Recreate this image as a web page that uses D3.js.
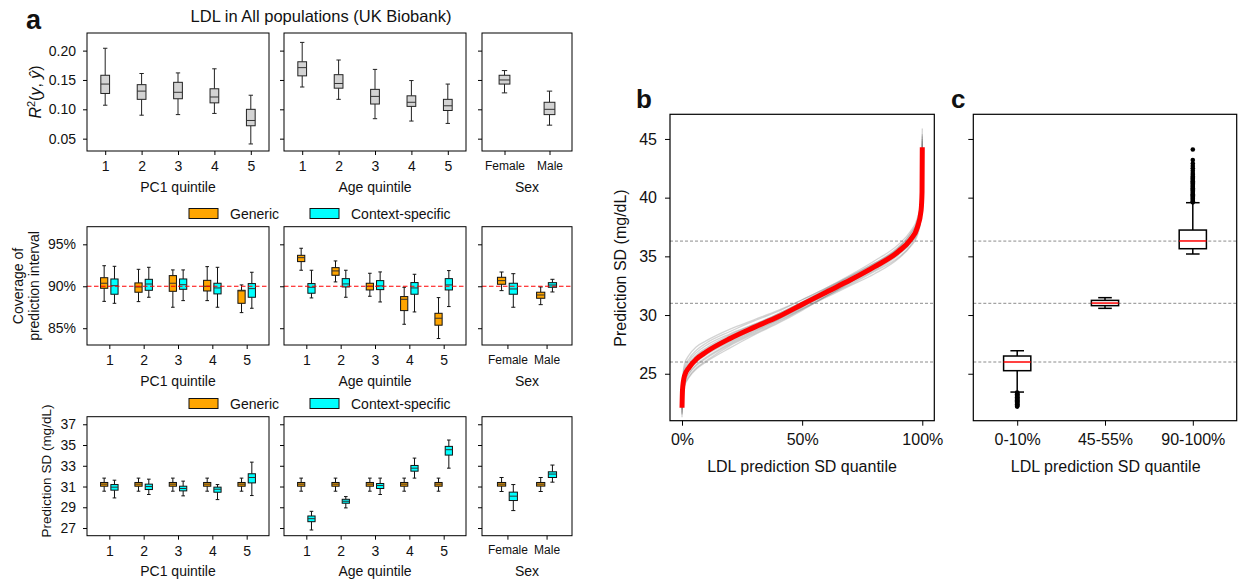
<!DOCTYPE html>
<html>
<head>
<meta charset="utf-8">
<script src="https://cdn.jsdelivr.net/npm/d3@7"></script>
<style>
  body { margin: 0; background: #fff; }
  svg text { font-family: "Liberation Sans", Arial, Helvetica, sans-serif; fill: #111; }
</style>
</head>
<body>
<svg id="fig" width="1238" height="579"></svg>
<script>
const FONT = '"Liberation Sans", Arial, Helvetica, sans-serif';

// ---- data (box stats are [lower whisker, Q1, median, Q3, upper whisker]) ----
const quintiles = ['1', '2', '3', '4', '5'];
const sexes = ['Female', 'Male'];

const r2Pc1 = [[0.107, 0.127, 0.143, 0.158, 0.204], [0.090, 0.117, 0.131, 0.142, 0.161], [0.091, 0.118, 0.129, 0.146, 0.162], [0.093, 0.111, 0.121, 0.135, 0.169], [0.041, 0.072, 0.081, 0.100, 0.124]];
const r2Age = [[0.138, 0.157, 0.171, 0.181, 0.214], [0.117, 0.136, 0.144, 0.159, 0.184], [0.084, 0.109, 0.122, 0.134, 0.168], [0.080, 0.105, 0.112, 0.123, 0.149], [0.076, 0.098, 0.106, 0.117, 0.143]];
const r2Sex = [[0.128, 0.143, 0.150, 0.158, 0.166], [0.073, 0.091, 0.100, 0.112, 0.131]];

const covGenericPc1 = [[88.20, 89.76, 90.36, 91.02, 92.45], [88.17, 89.29, 89.92, 90.40, 92.02], [87.50, 89.40, 90.36, 91.27, 91.95], [88.29, 89.44, 90.00, 90.71, 92.34], [86.86, 87.97, 89.44, 89.52, 90.16]];
const covContextPc1 = [[87.97, 89.05, 90.07, 90.87, 92.38], [88.69, 89.52, 90.27, 90.83, 92.26], [88.29, 89.64, 90.19, 90.87, 91.95], [87.50, 89.09, 89.80, 90.36, 92.26], [87.38, 88.69, 89.72, 90.32, 91.67]];
const covGenericAge = [[91.91, 92.94, 93.41, 93.69, 94.53], [90.52, 91.31, 91.83, 92.22, 93.02], [88.81, 89.56, 90.00, 90.36, 91.55], [85.47, 87.10, 88.45, 88.77, 89.88], [83.77, 85.36, 86.19, 86.78, 88.65]];
const covContextAge = [[88.61, 89.17, 89.88, 90.32, 91.91], [88.69, 89.92, 90.28, 90.91, 91.91], [88.13, 89.60, 90.04, 90.67, 91.71], [86.94, 89.05, 89.80, 90.44, 91.43], [87.58, 89.56, 90.16, 90.91, 91.87]];
const covGenericSex = [[89.48, 90.24, 90.67, 91.07, 91.70], [87.81, 88.57, 88.96, 89.29, 89.92]];
const covContextSex = [[87.50, 89.05, 89.68, 90.36, 91.50], [89.32, 89.88, 90.15, 90.43, 90.83]];
const nominalCoverage = 90;

const sdGenericPc1 = [[30.55, 31.03, 31.23, 31.39, 31.81], [30.55, 31.03, 31.23, 31.39, 31.81], [30.55, 31.03, 31.23, 31.39, 31.81], [30.55, 31.03, 31.23, 31.39, 31.81], [30.55, 31.03, 31.23, 31.39, 31.81]];
const sdContextPc1 = [[29.90, 30.65, 30.94, 31.19, 31.61], [30.23, 30.71, 31.00, 31.23, 31.71], [30.10, 30.58, 30.81, 31.03, 31.52], [29.74, 30.45, 30.74, 30.94, 31.19], [30.13, 31.35, 31.87, 32.23, 33.35]];
const sdGenericAge = [[30.55, 31.03, 31.23, 31.39, 31.81], [30.55, 31.03, 31.23, 31.39, 31.81], [30.55, 31.03, 31.23, 31.39, 31.81], [30.55, 31.03, 31.23, 31.39, 31.81], [30.55, 31.03, 31.23, 31.39, 31.81]];
const sdContextAge = [[26.81, 27.61, 27.90, 28.16, 28.61], [28.94, 29.39, 29.58, 29.77, 30.03], [30.23, 30.81, 31.10, 31.29, 31.81], [31.81, 32.48, 32.77, 33.03, 33.74], [32.77, 34.03, 34.55, 34.87, 35.48]];
const sdGenericSex = [[30.52, 31.04, 31.23, 31.39, 31.87], [30.52, 31.04, 31.23, 31.39, 31.87]];
const sdContextSex = [[28.68, 29.65, 30.07, 30.46, 31.19], [31.42, 31.87, 32.20, 32.42, 33.07]];

// panel b: quantile curves
const quantileGrid = [0, 0.002, 0.01, 0.03, 0.06, 0.1, 0.2, 0.3, 0.4, 0.5, 0.6, 0.7, 0.8, 0.9, 0.95, 0.98, 0.995, 0.999, 1];
const allPopCurve = [22.1, 23.6, 24.8, 25.55, 26.25, 26.85, 28.0, 28.95, 29.85, 30.9, 31.95, 32.98, 34.1, 35.4, 36.4, 37.5, 38.9, 40.5, 44.3];
const replicateCurve1 = [22.6, 24.2, 25.5, 26.3, 27.0, 27.6, 28.6, 29.5, 30.3, 31.3, 32.3, 33.4, 34.6, 36.0, 37.1, 38.3, 39.8, 41.6, 45.9];
const replicateCurve2 = [21.3, 22.8, 24.0, 24.8, 25.5, 26.1, 27.4, 28.4, 29.4, 30.5, 31.5, 32.5, 33.5, 34.8, 35.8, 36.8, 38.2, 39.6, 43.0];
const replicateCurve3 = [21.9, 23.4, 24.6, 25.4, 26.1, 26.7, 27.8, 28.8, 29.7, 30.7, 31.8, 32.8, 33.9, 35.2, 36.2, 37.3, 38.6, 40.2, 44.0];
const replicateCurve4 = [22.4, 23.9, 25.1, 25.9, 26.6, 27.2, 28.3, 29.2, 30.1, 31.1, 32.2, 33.2, 34.3, 35.7, 36.7, 37.8, 39.3, 41.0, 45.0];
const replicateCurve5 = [21.7, 23.1, 24.3, 25.1, 25.8, 26.4, 27.6, 28.6, 29.6, 30.7, 31.7, 32.8, 34.0, 35.3, 36.4, 37.6, 39.0, 40.7, 44.8];
const replicateCurve6 = [22.3, 23.8, 25.2, 26.1, 26.8, 27.4, 28.4, 29.2, 30.0, 30.9, 31.9, 32.9, 34.0, 35.2, 36.1, 37.1, 38.4, 39.9, 43.6];
const replicateCurve7 = [22.0, 23.5, 24.7, 25.4, 26.0, 26.6, 27.7, 28.7, 29.6, 30.6, 31.6, 32.7, 33.8, 35.1, 36.1, 37.2, 38.5, 40.0, 43.8];
const replicateCurve8 = [22.5, 24.0, 25.0, 25.7, 26.4, 27.0, 28.2, 29.1, 30.1, 31.1, 32.2, 33.3, 34.4, 35.8, 36.9, 38.0, 39.5, 41.3, 45.4];
const replicateCurve9 = [21.5, 23.0, 24.2, 25.0, 25.7, 26.3, 27.5, 28.5, 29.5, 30.5, 31.6, 32.6, 33.7, 34.9, 35.9, 37.0, 38.3, 39.8, 43.3];
const replicateCurve10 = [22.2, 23.7, 25.0, 25.8, 26.5, 27.1, 28.1, 29.0, 29.9, 30.9, 32.0, 33.1, 34.2, 35.5, 36.5, 37.6, 39.1, 40.8, 44.6];
const replicateCurve11 = [22.8, 24.4, 25.8, 26.6, 27.3, 27.8, 28.8, 29.6, 30.4, 31.3, 32.3, 33.3, 34.4, 35.6, 36.5, 37.5, 38.9, 40.4, 44.1];
const replicateCurve12 = [21.6, 22.9, 23.9, 24.7, 25.4, 26.0, 27.2, 28.3, 29.3, 30.4, 31.6, 32.8, 34.1, 35.7, 36.9, 38.1, 39.6, 41.2, 45.2];
const refLevels = [26.0, 31.0, 36.3];

// panel c
const sdBins = ['0-10%', '45-55%', '90-100%'];
const sdBinStats = [[23.44, 25.26, 26.0, 26.51, 26.96], [30.57, 30.80, 31.02, 31.25, 31.48], [35.20, 35.65, 36.31, 37.24, 39.57]];
const fliersLow = [23.4, 23.35, 23.3, 23.25, 23.2, 23.15, 23.1, 23.05, 23.0, 22.95, 22.9, 22.85, 22.8, 22.75, 22.7, 22.65, 22.6, 22.55, 22.5, 22.45, 22.4, 22.35, 22.3, 22.25, 22.2];
const fliersHigh = [39.6, 39.7, 39.8, 39.9, 40.0, 40.1, 40.2, 40.3, 40.4, 40.5, 40.6, 40.7, 40.8, 40.9, 41.0, 41.1, 41.2, 41.3, 41.4, 41.5, 41.6, 41.7, 41.8, 41.95, 42.1, 42.3, 42.5, 42.7, 42.9, 43.2, 44.1];

// ---- layout ----
const svg = d3.select('#fig');
const rowsA = [{top: 33, bottom: 151}, {top: 226.7, bottom: 345}, {top: 416.7, bottom: 535.7}];
const colsA = [{left: 87, right: 269}, {left: 284, right: 466}, {left: 482, right: 572}];

function styleAxis(sel, size) {
  sel.select('.domain').remove();
  sel.attr('font-family', null).attr('font-size', null);
  sel.selectAll('.tick line').attr('stroke', '#000').attr('stroke-width', 1);
  sel.selectAll('.tick text').attr('fill', '#111')
    .style('font-size', size + 'px').style('font-family', FONT);
}

function panelA(row, col, cfg) {
  const r = rowsA[row], c = colsA[col];
  const x = d3.scaleLinear().domain(cfg.xDomain).range([c.left, c.right]);
  const y = d3.scaleLinear().domain(cfg.yDomain).range([r.bottom, r.top]);
  const g = svg.append('g');
  g.append('g').attr('transform', `translate(0,${r.bottom})`)
    .call(d3.axisBottom(x).tickValues(cfg.cats.map((_, i) => i + 1))
      .tickFormat(d => cfg.cats[d - 1]).tickSize(4).tickPadding(6))
    .call(s => styleAxis(s, cfg.cats.length === 2 ? 12 : 14));
  g.append('g').attr('transform', `translate(${c.left},0)`)
    .call(d3.axisLeft(y).tickValues(cfg.yTicks)
      .tickFormat(col === 0 ? cfg.yFmt : () => '').tickSize(4).tickPadding(7))
    .call(s => styleAxis(s, 14));
  g.append('text').attr('x', (c.left + c.right) / 2).attr('y', r.bottom + 40.5)
    .attr('text-anchor', 'middle').style('font-size', '14px').text(cfg.xLabel);
  return {g, x, y, r, c};
}

function drawBox(g, x, y, pos, width, s, fill, opt) {
  const x0 = x(pos - width / 2), x1 = x(pos + width / 2), xc = x(pos);
  const cap = (x1 - x0) / 4;
  const bg = g.append('g').attr('stroke', opt.stroke).attr('stroke-width', opt.sw).attr('fill', 'none');
  bg.append('line').attr('x1', xc).attr('x2', xc).attr('y1', y(s[0])).attr('y2', y(s[1]));
  bg.append('line').attr('x1', xc).attr('x2', xc).attr('y1', y(s[3])).attr('y2', y(s[4]));
  [s[0], s[4]].forEach(v => bg.append('line')
    .attr('x1', xc - cap).attr('x2', xc + cap).attr('y1', y(v)).attr('y2', y(v)));
  bg.append('rect').attr('x', x0).attr('y', y(s[3]))
    .attr('width', x1 - x0).attr('height', y(s[1]) - y(s[3])).attr('fill', fill);
  bg.append('line').attr('x1', x0).attr('x2', x1).attr('y1', y(s[2])).attr('y2', y(s[2]))
    .attr('stroke', opt.median);
}

function frame(p) {
  p.g.append('rect').attr('x', p.c.left).attr('y', p.r.top)
    .attr('width', p.c.right - p.c.left).attr('height', p.r.bottom - p.r.top)
    .attr('fill', 'none').attr('stroke', '#000').attr('stroke-width', 1);
}

// ---- row 1: R2 ----
const r2Sets = [[r2Pc1, quintiles, 'PC1 quintile'], [r2Age, quintiles, 'Age quintile'], [r2Sex, sexes, 'Sex']];
r2Sets.forEach(([stats, cats, label], col) => {
  const p = panelA(0, col, {
    xDomain: [0.5, cats.length + 0.5], yDomain: [0.029, 0.230], cats, xLabel: label,
    yTicks: [0.05, 0.10, 0.15, 0.20], yFmt: d3.format('.2f')
  });
  stats.forEach((s, i) => drawBox(p.g, p.x, p.y, i + 1, 0.24, s, '#d3d3d3', {stroke: '#222', sw: 1, median: '#333'}));
  frame(p);
});

// ---- row 2: coverage ----
const covSets = [[covGenericPc1, covContextPc1, quintiles, 'PC1 quintile'], [covGenericAge, covContextAge, quintiles, 'Age quintile'], [covGenericSex, covContextSex, sexes, 'Sex']];
covSets.forEach(([gen, ctx, cats, label], col) => {
  const p = panelA(1, col, {
    xDomain: [0.35, cats.length + 0.65], yDomain: [83.0, 97.1], cats, xLabel: label,
    yTicks: [85, 90, 95], yFmt: d => d + '%'
  });
  gen.forEach((s, i) => drawBox(p.g, p.x, p.y, i + 1 - 0.15, 0.21, s, '#ffa500', {stroke: '#111', sw: 1, median: '#333'}));
  ctx.forEach((s, i) => drawBox(p.g, p.x, p.y, i + 1 + 0.15, 0.21, s, '#00ffff', {stroke: '#111', sw: 1, median: '#333'}));
  p.g.append('line').attr('x1', p.c.left).attr('x2', p.c.right)
    .attr('y1', p.y(nominalCoverage)).attr('y2', p.y(nominalCoverage))
    .attr('stroke', '#ff0000').attr('stroke-width', 1.2).attr('stroke-dasharray', '4.5,2.5');
  frame(p);
});

// ---- row 3: prediction SD ----
const sdSets = [[sdGenericPc1, sdContextPc1, quintiles, 'PC1 quintile'], [sdGenericAge, sdContextAge, quintiles, 'Age quintile'], [sdGenericSex, sdContextSex, sexes, 'Sex']];
sdSets.forEach(([gen, ctx, cats, label], col) => {
  const p = panelA(2, col, {
    xDomain: [0.35, cats.length + 0.65], yDomain: [26.26, 37.73], cats, xLabel: label,
    yTicks: [27, 29, 31, 33, 35, 37], yFmt: d3.format('d')
  });
  gen.forEach((s, i) => drawBox(p.g, p.x, p.y, i + 1 - 0.15, 0.21, s, '#ffa500', {stroke: '#111', sw: 1, median: '#333'}));
  ctx.forEach((s, i) => drawBox(p.g, p.x, p.y, i + 1 + 0.15, 0.21, s, '#00ffff', {stroke: '#111', sw: 1, median: '#333'}));
  frame(p);
});

// legends
[213.5, 403.5].forEach(cy => {
  const lg = svg.append('g');
  [['#ffa500', 'Generic', 189, 230], ['#00ffff', 'Context-specific', 310, 351]].forEach(([col, txt, sx, tx]) => {
    lg.append('rect').attr('x', sx).attr('y', cy - 5).attr('width', 29).attr('height', 10)
      .attr('fill', col).attr('stroke', '#111').attr('stroke-width', 1);
    lg.append('text').attr('x', tx).attr('y', cy + 5).style('font-size', '14px').text(txt);
  });
});

// panel a texts
svg.append('text').attr('x', 26).attr('y', 29).style('font-size', '27px').style('font-weight', 'bold').text('a');
svg.append('text').attr('x', 321).attr('y', 22).attr('text-anchor', 'middle').style('font-size', '16.5px')
  .text('LDL in All populations (UK Biobank)');

const r2Label = svg.append('text').attr('transform', 'translate(41,92) rotate(-90)')
  .attr('text-anchor', 'middle').style('font-size', '16px');
r2Label.append('tspan').style('font-style', 'italic').text('R');
r2Label.append('tspan').attr('dy', -6).style('font-size', '11px').text('2');
r2Label.append('tspan').attr('dy', 6).text('(');
r2Label.append('tspan').style('font-style', 'italic').text('y');
r2Label.append('tspan').text(', ');
r2Label.append('tspan').style('font-style', 'italic').text('\u0177');
r2Label.append('tspan').text(')');

const covLabel = svg.append('text').attr('transform', 'translate(23,286) rotate(-90)')
  .attr('text-anchor', 'middle').style('font-size', '14px');
covLabel.append('tspan').attr('x', 0).attr('dy', 0).text('Coverage of');
covLabel.append('tspan').attr('x', 0).attr('dy', 15.5).text('prediction interval');

svg.append('text').attr('transform', 'translate(51,471) rotate(-90)')
  .attr('text-anchor', 'middle').style('font-size', '13.5px').text('Prediction SD (mg/dL)');

// ---- panel b ----
const bBox = {left: 670, right: 934.3, top: 114.3, bottom: 420.7};
const cBox = {left: 973.3, right: 1236.7, top: 114.3, bottom: 420.7};
const ySD = d3.scaleLinear().domain([21.0, 47.1]).range([bBox.bottom, bBox.top]);
const xQ = d3.scaleLinear().domain([-0.05, 1.05]).range([bBox.left, bBox.right]);
const xBin = d3.scaleLinear().domain([0.5, 3.5]).range([cBox.left, cBox.right]);

svg.append('clipPath').attr('id', 'clipB').append('rect')
  .attr('x', bBox.left).attr('y', bBox.top).attr('width', bBox.right - bBox.left).attr('height', bBox.bottom - bBox.top);

const gb = svg.append('g');
gb.append('g').attr('transform', `translate(0,${bBox.bottom})`)
  .call(d3.axisBottom(xQ).tickValues([0, 0.5, 1]).tickFormat(d3.format('.0%')).tickSize(5).tickPadding(8))
  .call(s => styleAxis(s, 16));
gb.append('g').attr('transform', `translate(${bBox.left},0)`)
  .call(d3.axisLeft(ySD).tickValues([25, 30, 35, 40, 45]).tickSize(5).tickPadding(8))
  .call(s => styleAxis(s, 16));

const refs = gb.append('g');
refLevels.forEach(v => {
  [[bBox.left, bBox.right], [cBox.left, cBox.right]].forEach(([a, b]) => refs.append('line')
    .attr('x1', a).attr('x2', b).attr('y1', ySD(v)).attr('y2', ySD(v))
    .attr('stroke', '#8c8c8c').attr('stroke-width', 1).attr('stroke-dasharray', '3,2'));
});

const qLine = d3.line().x((d, i) => xQ(quantileGrid[i])).y(d => ySD(d)).curve(d3.curveMonotoneX);
const replicates = [replicateCurve1, replicateCurve2, replicateCurve3, replicateCurve4, replicateCurve5, replicateCurve6,
  replicateCurve7, replicateCurve8, replicateCurve9, replicateCurve10, replicateCurve11, replicateCurve12];
const curves = gb.append('g').attr('clip-path', 'url(#clipB)');
replicates.forEach(c => curves.append('path').attr('d', qLine(c)).attr('fill', 'none')
  .attr('stroke', '#6e6e6e').attr('stroke-opacity', 0.3).attr('stroke-width', 1.3));
curves.append('path').attr('d', qLine(allPopCurve)).attr('fill', 'none')
  .attr('stroke', '#ff0000').attr('stroke-width', 5);

gb.append('rect').attr('x', bBox.left).attr('y', bBox.top)
  .attr('width', bBox.right - bBox.left).attr('height', bBox.bottom - bBox.top)
  .attr('fill', 'none').attr('stroke', '#000').attr('stroke-width', 1.2);

svg.append('text').attr('x', 636).attr('y', 108).style('font-size', '26px').style('font-weight', 'bold').text('b');
svg.append('text').attr('transform', 'translate(626,268) rotate(-90)').attr('text-anchor', 'middle')
  .style('font-size', '16px').text('Prediction SD (mg/dL)');
svg.append('text').attr('x', 802).attr('y', 472).attr('text-anchor', 'middle')
  .style('font-size', '16px').text('LDL prediction SD quantile');

// ---- panel c ----
const gc = svg.append('g');
gc.append('g').attr('transform', `translate(0,${cBox.bottom})`)
  .call(d3.axisBottom(xBin).tickValues([1, 2, 3]).tickFormat(d => sdBins[d - 1]).tickSize(5).tickPadding(8))
  .call(s => styleAxis(s, 16));
gc.append('g').attr('transform', `translate(${cBox.left},0)`)
  .call(d3.axisLeft(ySD).tickValues([25, 30, 35, 40, 45]).tickFormat(() => '').tickSize(5))
  .call(s => styleAxis(s, 16));

sdBinStats.forEach((s, i) => drawBox(gc, xBin, ySD, i + 1, 0.31, s, '#fff', {stroke: '#000', sw: 1.5, median: '#ff0000'}));
fliersLow.forEach(v => gc.append('circle').attr('cx', xBin(1)).attr('cy', ySD(v)).attr('r', 2.3).attr('fill', '#000'));
fliersHigh.forEach(v => gc.append('circle').attr('cx', xBin(3)).attr('cy', ySD(v)).attr('r', 2.3).attr('fill', '#000'));

gc.append('rect').attr('x', cBox.left).attr('y', cBox.top)
  .attr('width', cBox.right - cBox.left).attr('height', cBox.bottom - cBox.top)
  .attr('fill', 'none').attr('stroke', '#000').attr('stroke-width', 1.2);

svg.append('text').attr('x', 951).attr('y', 108).style('font-size', '26px').style('font-weight', 'bold').text('c');
svg.append('text').attr('x', 1105.7).attr('y', 472).attr('text-anchor', 'middle')
  .style('font-size', '16px').text('LDL prediction SD quantile');
</script>
</body>
</html>
